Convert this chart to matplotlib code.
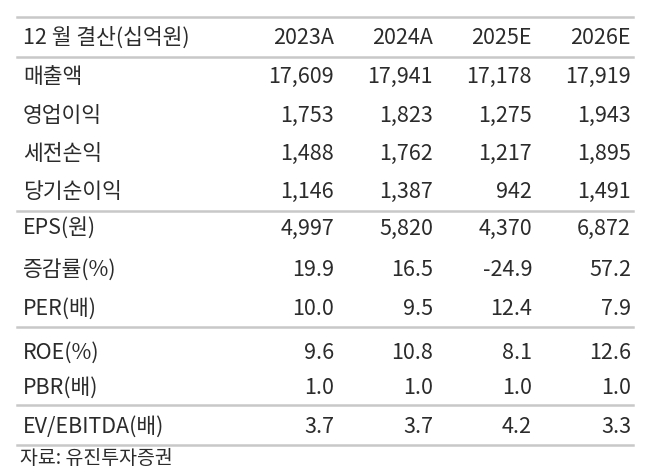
import matplotlib
matplotlib.use("Agg")
import matplotlib.pyplot as plt

header_label = "12 월 결산(십억원)"
years = ["2023A", "2024A", "2025E", "2026E"]
row_labels = ["매출액", "영업이익", "세전손익", "당기순이익", "EPS(원)", "증감률(%)",
              "PER(배)", "ROE(%)", "PBR(배)", "EV/EBITDA(배)"]
values = [
    ["17,609", "17,941", "17,178", "17,919"],
    ["1,753", "1,823", "1,275", "1,943"],
    ["1,488", "1,762", "1,217", "1,895"],
    ["1,146", "1,387", "942", "1,491"],
    ["4,997", "5,820", "4,370", "6,872"],
    ["19.9", "16.5", "-24.9", "57.2"],
    ["10.0", "9.5", "12.4", "7.9"],
    ["9.6", "10.8", "8.1", "12.6"],
    ["1.0", "1.0", "1.0", "1.0"],
    ["3.7", "3.7", "4.2", "3.3"],
]
source = "자료: 유진투자증권"

W, H = 670, 474
fig = plt.figure(figsize=(W/100, H/100), dpi=100)
ax = fig.add_axes([0, 0, 1, 1])
ax.set_xlim(0, W); ax.set_ylim(H, 0); ax.axis("off")
font = "Noto Sans CJK KR"
col = "#2b2b2b"
fs = 15.5

col_x = [334, 433, 532, 631]
row_y = [77, 116, 154, 192, 229, 270, 309, 353, 388, 427]
ax.text(23, 38, header_label, fontsize=fs, family=font, color=col, va="center", ha="left", weight="medium")
for x, yr in zip(col_x, years):
    ax.text(x, 38, yr, fontsize=fs, family=font, color=col, va="center", ha="right", weight="medium")
for y, lab, vals in zip(row_y, row_labels, values):
    ax.text(23, y, lab, fontsize=fs, family=font, color=col, va="center", ha="left", weight="light")
    for x, v in zip(col_x, vals):
        ax.text(x, y, v, fontsize=fs, family=font, color=col, va="center", ha="right", weight="light")
for y in [17, 57, 211, 327, 405, 445]:
    ax.plot([17, 633], [y, y], color="#c8c8c8", lw=1.8)
ax.text(20, 458, source, fontsize=14, family=font, color=col, va="center", ha="left", weight="light")
fig.savefig("out.png", dpi=100, facecolor="white")
